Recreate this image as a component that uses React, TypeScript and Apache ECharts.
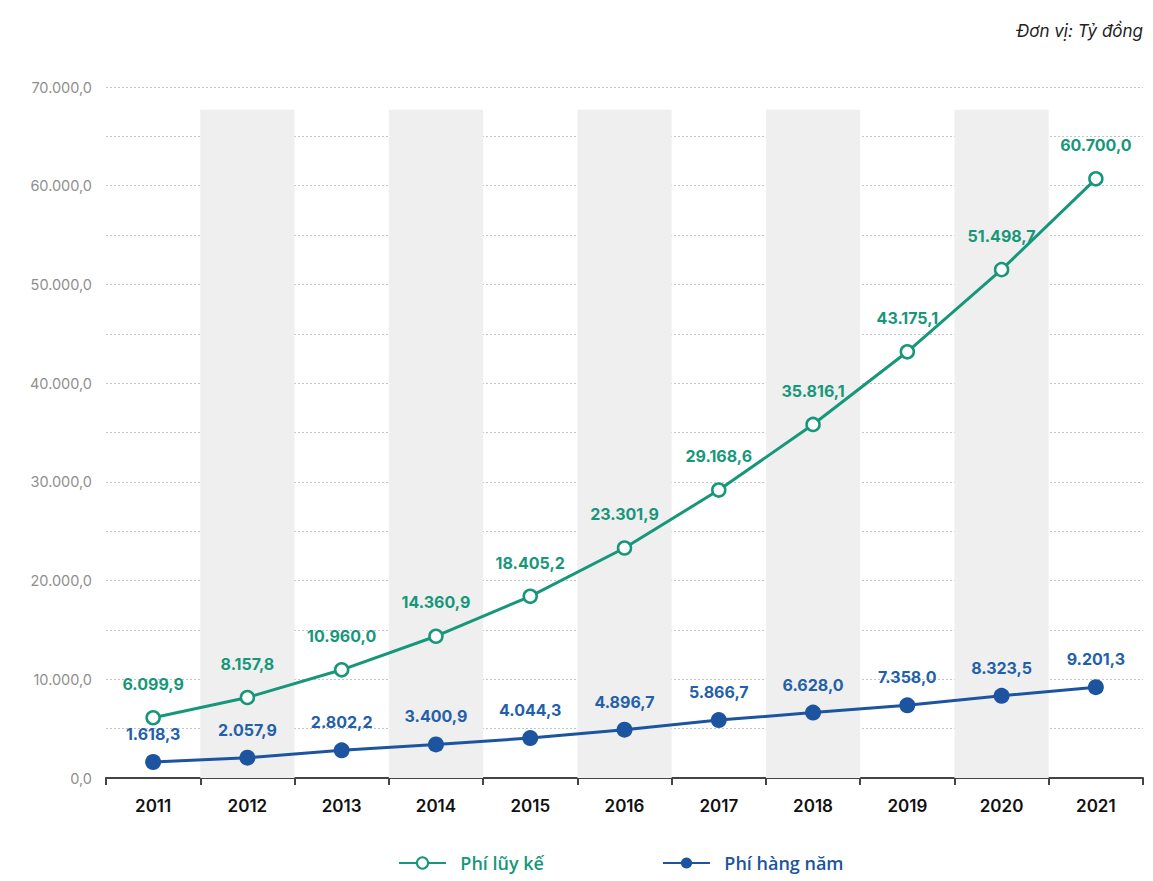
import React, { useEffect, useRef } from "react";
import * as echarts from "echarts";

const years = ["2011", "2012", "2013", "2014", "2015", "2016", "2017", "2018", "2019", "2020", "2021"];
const cumulative = [6099.9, 8157.8, 10960.0, 14360.9, 18405.2, 23301.9, 29168.6, 35816.1, 43175.1, 51498.7, 60700.0];
const annual = [1618.3, 2057.9, 2802.2, 3400.9, 4044.3, 4896.7, 5866.7, 6628.0, 7358.0, 8323.5, 9201.3];
const shadedYears = ["2012", "2014", "2016", "2018", "2020"];
const bandTop = 67700;

const GREEN = "#17977a";
const BLUE = "#1c54a0";
const FONT = "Inter, 'Noto Sans', sans-serif";

function fmt(v: number): string {
  const fixed = v.toFixed(1);
  const [intPart, dec] = fixed.split(".");
  const withSep = intPart.replace(/\B(?=(\d{3})+(?!\d))/g, ".");
  return withSep + "," + dec;
}

export default function App() {
  const ref = useRef<HTMLDivElement>(null);
  useEffect(() => {
    document.body.style.margin = "0";
    if (!ref.current) return;
    const chart = echarts.init(ref.current, undefined, { renderer: "svg" });
    chart.setOption({
      animation: false,
      textStyle: { fontFamily: FONT },
      title: {
        text: "Đơn vị: Tỷ đồng",
        right: 5,
        top: 17,
        textStyle: { fontSize: 17, fontStyle: "italic", fontWeight: "normal", color: "#222", fontFamily: FONT },
      },
      grid: { left: 106, right: 10, top: 87, bottom: 103, containLabel: false },
      legend: {
        bottom: 4,
        left: 393,
        itemGap: 118,
        itemWidth: 47,
        itemHeight: 14,
        formatter: (name: string) => "  " + name,
        data: [
          { name: "Phí lũy kế", textStyle: { color: GREEN } },
          { name: "Phí hàng năm", textStyle: { color: BLUE } },
        ],
        textStyle: { fontSize: 18, fontWeight: 600, fontFamily: "'Open Sans', sans-serif" },
      },
      xAxis: {
        type: "category",
        data: years,
        boundaryGap: true,
        axisLine: { lineStyle: { color: "#444", width: 2 } },
        axisTick: { show: true, length: 7, lineStyle: { color: "#444", width: 2 } },
        axisLabel: { color: "#111", fontSize: 17, fontWeight: 600, margin: 19 },
      },
      yAxis: {
        type: "value",
        min: 0,
        max: 70000,
        interval: 5000,
        axisLine: { show: false },
        axisTick: { show: false },
        axisLabel: {
          color: "#8f8f8f",
          fontSize: 14.5,
          margin: 14,
          formatter: (v: number) => (v % 10000 === 0 ? fmt(v) : ""),
        },
        splitLine: { lineStyle: { color: "#c4c4c4", type: [2, 2], width: 1 } },
      },
      series: [
        {
          name: "band",
          type: "bar",
          silent: true,
          barWidth: "100%",
          data: years.map((y) => (shadedYears.includes(y) ? bandTop : 0)),
          itemStyle: { color: "#efefef" },
          z: 0,
          legendHoverLink: false,
        },
        {
          name: "Phí lũy kế",
          type: "line",
          data: cumulative,
          symbol: "circle",
          symbolSize: 13,
          color: GREEN,
          lineStyle: { color: GREEN, width: 3 },
          itemStyle: { color: "#fff", borderColor: GREEN, borderWidth: 2.5 },
          label: {
            show: true,
            position: "top",
            distance: 18,
            color: GREEN,
            fontSize: 16,
            fontWeight: 700,
            formatter: (p: any) => fmt(p.value),
          },
          z: 3,
        },
        {
          name: "Phí hàng năm",
          type: "line",
          data: annual,
          symbol: "circle",
          symbolSize: 16,
          color: BLUE,
          lineStyle: { color: BLUE, width: 3 },
          itemStyle: { color: BLUE },
          label: {
            show: true,
            position: "top",
            distance: 12,
            color: "#2360aa",
            fontSize: 16,
            fontWeight: 700,
            formatter: (p: any) => fmt(p.value),
          },
          z: 3,
        },
      ],
    });
    return () => chart.dispose();
  }, []);
  return <div ref={ref} style={{ width: 1153, height: 881, background: "#fff" }} />;
}
